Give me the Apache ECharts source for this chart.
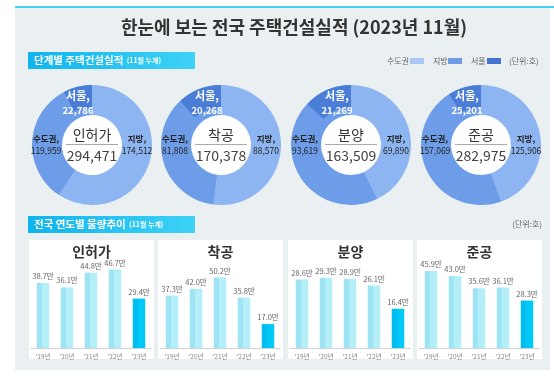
<!DOCTYPE html>
<html><head><meta charset="utf-8">
<script src="https://cdn.jsdelivr.net/npm/echarts@6/dist/echarts.min.js"></script>
<style>html,body{margin:0;padding:0;background:#fff}#c{width:554px;height:376px}</style>
</head><body><div id="c"></div>
<script>
// ---- data ----
var stages = ['인허가', '착공', '분양', '준공'];
var totals = [294471, 170378, 163509, 282975];
var sudogwon = [119959, 81808, 93619, 157069];
var jibang = [174512, 88570, 69890, 125906];
var seoul = [22786, 20268, 21269, 25201];
var years = ["'19년", "'20년", "'21년", "'22년", "'23년"];
var permit = [38.7, 36.1, 44.8, 46.7, 29.4];
var starts = [37.3, 42.0, 50.2, 35.8, 17.0];
var sales = [28.6, 29.3, 28.9, 26.1, 16.4];
var completions = [45.9, 43.0, 35.6, 36.1, 28.3];
var barSets = [permit, starts, sales, completions];

// ---- layout ----
var FONT = '"Noto Sans CJK KR", "Noto Sans", sans-serif';
var cxs = [92, 221, 351, 481], cy = 145;
var R_IN = 30, R_OUT = 60, R_SEOUL_IN = 38;
var panelLeft = [29, 158, 288, 417], panelW = 125, panelTop = 240, panelH = 119;
var gridTop = 258, gridH = 90;
var yMax = [53.6, 64, 37.6, 53.7];
var C_JIBANG = '#8db5f1', C_SUDO = '#6d9ce8', C_SEOUL = '#4a7dd8';

function comma(n) { return String(n).replace(/\B(?=(\d{3})+(?!\d))/g, ','); }

var chart = echarts.init(document.getElementById('c'), null, {renderer: 'canvas'});
var graphic = [];
// background
graphic.push({type: 'rect', z: -100, shape: {x: 15, y: 8, width: 535, height: 362}, style: {fill: '#eaeff2'}, silent: true});
graphic.push({type: 'rect', z: -99, shape: {x: 15, y: 6, width: 539, height: 2}, style: {fill: '#3fd2f2'}, silent: true});
graphic.push({type: 'text', z: 10, x: 294, y: 27, style: {text: '한눈에 보는 전국 주택건설실적 (2023년 11월)', font: 'bold 18px ' + FONT, fill: '#333', align: 'center', verticalAlign: 'middle'}});
// section headers
function header(y, main) {
  graphic.push({type: 'rect', z: -90, shape: {x: 28, y: y, width: 167, height: 17},
    style: {fill: new echarts.graphic.LinearGradient(0, 0, 1, 0, [{offset: 0, color: '#10b4ee'}, {offset: 1, color: '#3ed2f6'}])}});
  graphic.push({type: 'text', z: 10, x: 34, y: y + 8.5, style: {
    text: '{a|' + main + '} {b|(11월 누계)}', verticalAlign: 'middle',
    rich: {a: {font: 'bold 10.5px ' + FONT, fill: '#fff'}, b: {font: 'bold 7px ' + FONT, fill: '#fff'}}}});
}
header(52, '단계별 주택건설실적');
header(216, '전국 연도별 물량추이');
// legend
var legItems = [['수도권', 387, 410, '#a8c7f4'], ['지방', 433, 448, '#6d9be6'], ['서울', 471, 487, '#4673d0']];
legItems.forEach(function (l) {
  graphic.push({type: 'text', z: 10, x: l[1], y: 61, style: {text: l[0], font: '8px ' + FONT, fill: '#666', verticalAlign: 'middle'}});
  graphic.push({type: 'rect', z: 10, shape: {x: l[2], y: 58, width: 14, height: 6}, style: {fill: l[3]}});
});
graphic.push({type: 'text', z: 10, x: 509, y: 61, style: {text: '(단위:호)', font: '8px ' + FONT, fill: '#666', verticalAlign: 'middle'}});
graphic.push({type: 'text', z: 10, x: 542, y: 224, style: {text: '(단위:호)', font: '8px ' + FONT, fill: '#666', align: 'right', verticalAlign: 'middle'}});

var series = [], grids = [], xAxes = [], yAxes = [];
stages.forEach(function (s, i) {
  var cx = cxs[i];
  graphic.push({type: 'circle', z: -50, shape: {cx: cx, cy: cy, r: R_IN + 1}, style: {fill: '#fff'}});
  graphic.push({type: 'text', z: 10, x: cx, y: cy - 10, style: {text: s, font: '14px ' + FONT, fill: '#333', align: 'center', verticalAlign: 'middle'}});
  graphic.push({type: 'line', z: 10, shape: {x1: cx - 26, y1: cy - 0.5, x2: cx + 26, y2: cy - 0.5}, style: {stroke: '#aaa', lineWidth: 1}});
  graphic.push({type: 'text', z: 10, x: cx, y: cy + 11, style: {text: comma(totals[i]), font: '14px ' + FONT, fill: '#444', align: 'center', verticalAlign: 'middle'}});

  series.push({
    type: 'pie', center: [cx, cy], radius: [R_IN, R_OUT], startAngle: 90, clockwise: true,
    silent: true, animation: false,
    itemStyle: {borderWidth: 0},
    label: {show: true, position: 'inside', formatter: function (p) { return '{n|' + p.name + ',}\n{v|' + comma(p.value) + '}'; },
      rich: {n: {fontSize: 8.5, fontWeight: 'bold', color: '#222', fontFamily: FONT, lineHeight: 12, align: 'center'},
             v: {fontSize: 8.5, color: '#222', fontFamily: FONT, lineHeight: 12, align: 'center'}}},
    labelLine: {show: false},
    labelLayout: function (p) {
      return p.dataIndex === 0 ? {x: cx + 45, y: cy, align: 'center', verticalAlign: 'middle'}
                               : {x: cx - 46, y: cy, align: 'center', verticalAlign: 'middle'};
    },
    data: [{name: '지방', value: jibang[i], itemStyle: {color: C_JIBANG}},
           {name: '수도권', value: sudogwon[i], itemStyle: {color: C_SUDO}}]
  });
  series.push({
    type: 'pie', center: [cx, cy], radius: [R_SEOUL_IN, R_OUT], startAngle: 90, clockwise: true,
    silent: true, animation: false, z: 3,
    itemStyle: {borderWidth: 0},
    label: {show: true, position: 'inside', formatter: function (p) { return '{n|' + p.name + ',}\n{v|' + comma(p.value) + '}'; },
      rich: {n: {fontSize: 11, fontWeight: 'bold', color: '#fff', fontFamily: FONT, lineHeight: 15, align: 'center'},
             v: {fontSize: 9.5, fontWeight: 'bold', color: '#fff', fontFamily: FONT, lineHeight: 15, align: 'center'}}},
    labelLine: {show: false},
    labelLayout: function (p) { return {x: cx - 14, y: cy - 42, align: 'center', verticalAlign: 'middle'}; },
    data: [{name: 'rest', value: totals[i] - seoul[i], itemStyle: {color: 'rgba(0,0,0,0)'}, label: {show: false}},
           {name: '서울', value: seoul[i], itemStyle: {color: C_SEOUL}}]
  });

  // bar panel
  var pl = panelLeft[i];
  graphic.push({type: 'rect', z: -80, shape: {x: pl, y: panelTop, width: panelW, height: panelH}, style: {fill: '#fff'}});
  graphic.push({type: 'text', z: 10, x: pl + panelW / 2, y: 252, style: {text: s, font: 'bold 14px ' + FONT, fill: '#333', align: 'center', verticalAlign: 'middle'}});
  grids.push({left: pl + 2, top: gridTop, width: 120, height: gridH});
  xAxes.push({type: 'category', gridIndex: i, data: years, axisTick: {show: false},
    axisLine: {lineStyle: {color: '#cfd4d8', width: 1}},
    axisLabel: {fontSize: 6.5, color: '#888', fontFamily: FONT, margin: 5}});
  yAxes.push({type: 'value', gridIndex: i, min: 0, max: yMax[i], show: false, splitLine: {show: false}});
  var light = new echarts.graphic.LinearGradient(0, 0, 1, 0, [{offset: 0, color: '#9fe4f4'}, {offset: 0.45, color: '#9fe4f4'}, {offset: 0.45, color: '#b3eef9'}, {offset: 1, color: '#b3eef9'}]);
  var bright = new echarts.graphic.LinearGradient(0, 0, 1, 0, [{offset: 0, color: '#00bdf0'}, {offset: 0.45, color: '#00bdf0'}, {offset: 0.45, color: '#00c9f7'}, {offset: 1, color: '#00c9f7'}]);
  series.push({
    type: 'bar', xAxisIndex: i, yAxisIndex: i, barWidth: 12.5, animation: false, silent: true,
    label: {show: true, position: 'top', distance: 3, fontSize: 7.5, color: '#666', fontFamily: FONT,
      formatter: function (p) { return p.value.toFixed(1) + '만'; }},
    data: barSets[i].map(function (v, k) { return {value: v, itemStyle: {color: k === barSets[i].length - 1 ? bright : light}}; })
  });
});

chart.setOption({
  animation: false,
  textStyle: {fontFamily: FONT},
  graphic: {elements: graphic},
  grid: grids, xAxis: xAxes, yAxis: yAxes, series: series
});
</script></body></html>
